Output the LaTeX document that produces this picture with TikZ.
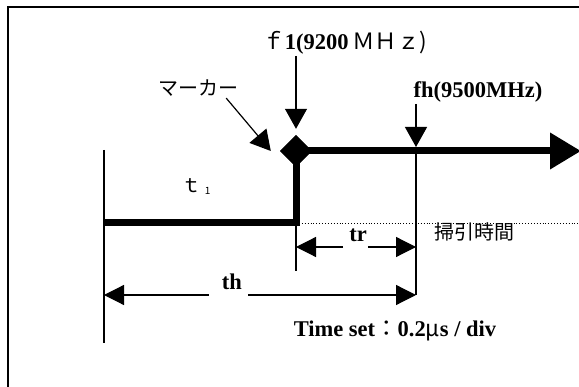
\documentclass[tikz,border=0pt]{standalone}
\usepackage{fontspec}
\setmainfont{Liberation Serif}
\newfontfamily\jpfont{Noto Sans CJK JP}
\newcommand{\jp}[1]{{\mdseries\jpfont #1}}
\usetikzlibrary{arrows.meta,positioning,shapes.geometric}

\begin{document}
\begin{tikzpicture}[x=1pt, y=-1pt,
  sigline/.style={line width=7pt},
  sigarr/.style={-{Triangle[length=31pt,width=35pt]}, line width=7pt},
  thin/.style={line width=1.2pt},
  arr/.style={-{Triangle[length=20pt,width=22pt]}, line width=1.2pt},
  dimarr/.style={-{Triangle[length=20pt,width=20pt]}, line width=1.2pt},
  lbl/.style={font=\bfseries\fontsize{22.5}{26}\selectfont, inner sep=1pt, anchor=base},
  jlbl/.style={font=\jpfont\fontsize{20}{23}\selectfont, inner sep=1pt, anchor=base},
  mkbox/.style={diamond, fill=black, minimum width=32pt, minimum height=32pt, inner sep=0pt}
]
\useasboundingbox (0,0) rectangle (579,387);
\clip (0,0) rectangle (579,387);
\draw[line width=2pt] (8,7) rectangle (600,400);

% signal
\coordinate (start) at (104,223);
\coordinate (step) at (296,223);
\coordinate (stop) at (581,151);
\coordinate (dotend) at (579,223);
\node[mkbox] (mk) at (296,151) {};
\draw[sigline] (start) -- (step) -- (mk.center);
\draw[sigarr] (mk.center) -- (stop);
\node[mkbox] at (mk) {};
\draw[dotted, line width=0.9pt] (step) -- (dotend);

% labels
\node[lbl] (f1) at (345,50) {\jp{ｆ}1(9200\jp{\,ＭＨｚ)}};
\node[lbl] (fh) at (478,98) {fh(9500MHz)};
\node[jlbl] (mklbl) at (198,96) {マーカー};
\node[jlbl] (t1) at (196,193) {ｔ\,\raisebox{-2pt}{\fontsize{10}{10}\selectfont 1}};
\node[lbl] (tr) at (358,242) {tr};
\node[jlbl] (sweep) at (474,240) {掃引時間};
\node[lbl] (th) at (232,290) {th};
\node[lbl] (tset) at (395,337) {Time set\jp{：}0.2\jp{μ}s / div};

% markers
\coordinate (fhtip) at (416,147);
\draw[arr] (mk.north |- f1.south) -- ([yshift=6pt]mk.north);
\draw[arr] (fhtip |- fh.south) -- (fhtip);
\draw[arr] ([xshift=-13pt]mklbl.south east) -- ([xshift=-9pt]mk.west);

% extension lines
\coordinate (ltop) at (104,150);
\coordinate (lbot) at (104,343);
\coordinate (trbot) at (296,271);
\coordinate (thR) at (416,295);
\coordinate (thL) at (104,295);
\coordinate (trL) at (296,247);
\coordinate (trR) at (416,247);
\draw[thin] (ltop) -- (lbot);
\draw[thin] (step) -- (trbot);
\draw[thin] (fhtip) -- (thR);

% dimensions
\draw[dimarr] ([xshift=-5pt]tr.west |- trL) -- (trL);
\draw[dimarr] (tr.east |- trR) -- (trR);
\draw[dimarr] ([xshift=-12pt]th.west |- thL) -- (thL);
\draw[dimarr] ([xshift=5pt]th.east |- thR) -- (thR);
\end{tikzpicture}
\end{document}
